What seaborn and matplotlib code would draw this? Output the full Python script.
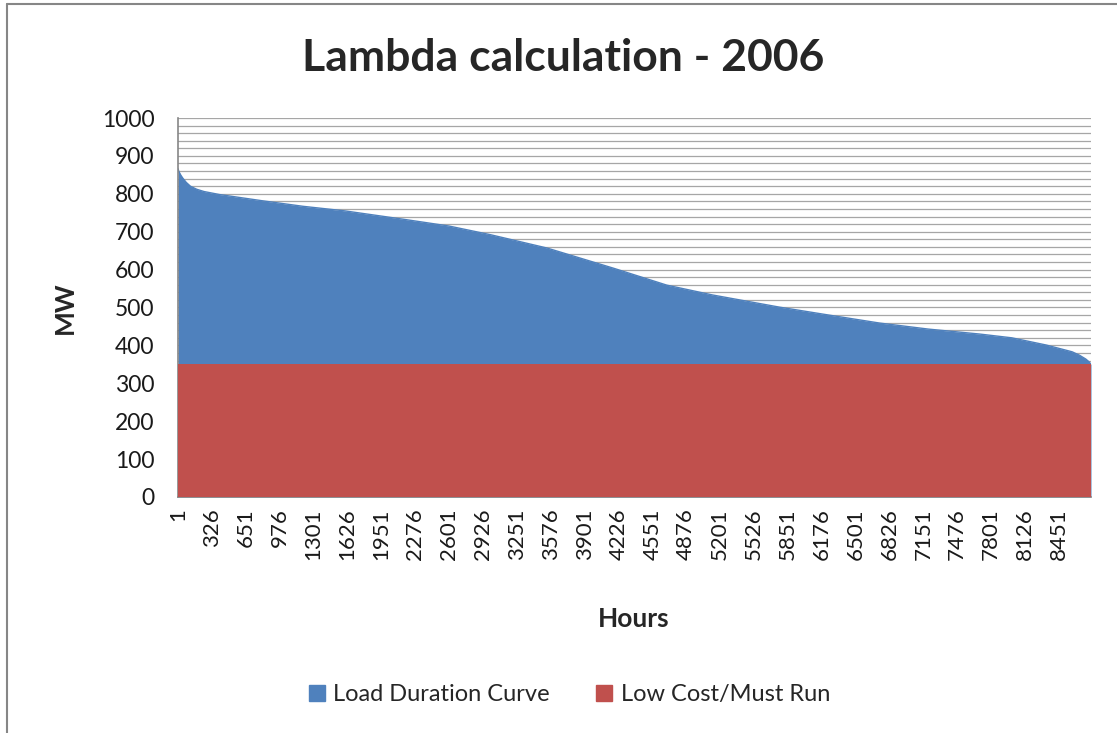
import numpy as np
import pandas as pd
import seaborn as sns
import matplotlib.pyplot as plt
from matplotlib.lines import Line2D

# Load duration curve (hour -> MW)
hours = [1, 10, 30, 50, 80, 120, 180, 250, 400, 800, 1200, 1600, 2160, 2600,
         3000, 3540, 4175, 4690, 5130, 5770, 6200, 6730, 7200, 7690, 8000,
         8330, 8580, 8650, 8710, 8740, 8760]
load_mw = [866, 858, 848, 840, 830, 820, 812, 806, 798, 782, 767, 755, 733, 715,
           692, 657, 604, 559, 533, 501, 482, 459, 443, 430, 420,
           401, 383, 374, 364, 357, 350]
must_run_mw = 350
tick_hours = list(range(1, 8761, 325))

df = pd.DataFrame({'hour': hours, 'load': load_mw})
df['must_run'] = must_run_mw

sns.set_theme(style='white')
plt.rcParams['font.family'] = ['Lato', 'DejaVu Sans']

blue = '#4F81BD'
red = '#C0504D'

fig = plt.figure(figsize=(11.17, 7.33), dpi=100)
ax = fig.add_axes([0.1594, 0.322, 0.8173, 0.517])

ax.fill_between(df['hour'], 0, df['load'], color=blue, lw=0, zorder=2)
sns.lineplot(data=df, x='hour', y='load', color=blue, lw=1, ax=ax, zorder=2)
ax.fill_between(df['hour'], 0, df['must_run'], color=red, lw=0, zorder=3)

ax.set_xlim(1, 8760)
ax.set_ylim(0, 1000)
for v in range(20, 1001, 20):
    ax.axhline(v, color='#a6a6a6', lw=0.9, zorder=1)

ax.set_yticks(range(0, 1001, 100))
ax.set_xticks(tick_hours)
ax.set_xticklabels([str(h) for h in tick_hours], rotation=90)
ax.tick_params(axis='y', labelsize=16.5, length=0, pad=17, colors='#1a1a1a')
ax.tick_params(axis='x', labelsize=16, length=0, pad=8, colors='#1a1a1a')

for s in ['top', 'right']:
    ax.spines[s].set_visible(False)
for s in ['left', 'bottom']:
    ax.spines[s].set_color('#868686')
    ax.spines[s].set_linewidth(1.2)

ax.set_xlabel('')
ax.set_ylabel('')
fig.text(0.567, 0.155, 'Hours', ha='center', va='center', fontsize=19, fontweight='bold')
fig.text(0.058, 0.58, 'MW', ha='center', va='center', rotation=90, fontsize=19, fontweight='bold')
fig.text(0.504, 0.921, 'Lambda calculation - 2006', ha='center', va='center',
         fontsize=32, fontweight='bold')

handles = [Line2D([], [], marker='s', ls='', color=blue, markersize=11),
           Line2D([], [], marker='s', ls='', color=red, markersize=11)]
fig.legend(handles, ['Load Duration Curve', 'Low Cost/Must Run'], loc='center',
           bbox_to_anchor=(0.508, 0.052), ncol=2, frameon=False, fontsize=17,
           handletextpad=0.2, columnspacing=1.8, handlelength=1.0)

# outer chart border (left and top)
fig.add_artist(Line2D([0.0066, 0.0066], [0, 0.9945], color='#868686', lw=1.5,
                      transform=fig.transFigure))
fig.add_artist(Line2D([0.0066, 1], [0.9945, 0.9945], color='#868686', lw=1.5,
                      transform=fig.transFigure))

fig.savefig('out.png', dpi=100)
